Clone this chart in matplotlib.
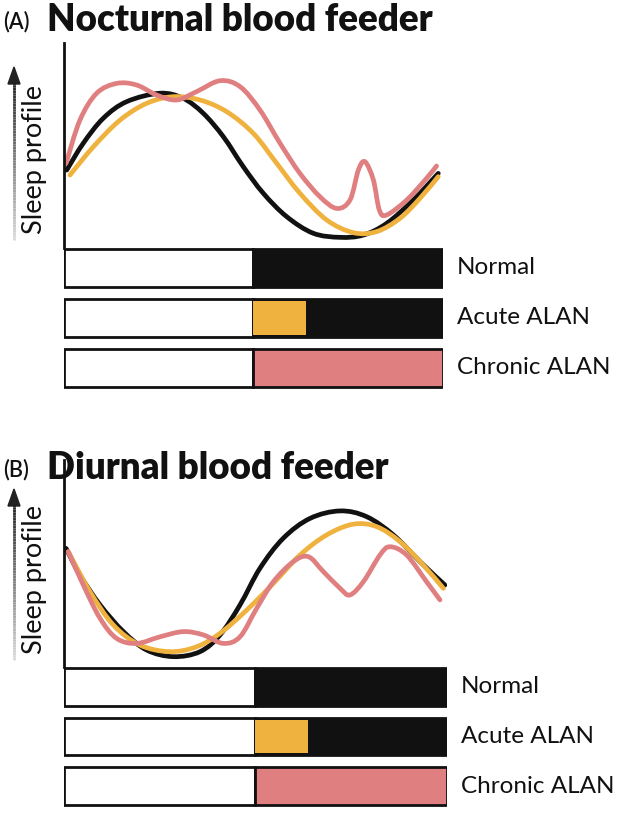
import numpy as np
import matplotlib
matplotlib.use("Agg")
import matplotlib.pyplot as plt
from matplotlib.path import Path
from matplotlib.patches import PathPatch, Polygon
from matplotlib.collections import LineCollection

plt.rcParams['font.family'] = ['Lato', 'DejaVu Sans']

# ---- data (hours 0-24, relative sleep 0-100) ----
conditions = ["Normal", "Acute ALAN", "Chronic ALAN"]
dark_start = 12.0
acute_end = 15.3

noct_hours_black = [0.17, 1.22, 2.49, 3.97, 6.08, 7.55, 8.82, 10.09, 11.35, 12.62, 14.10, 15.78,
                    17.48, 18.95, 20.43, 22.12, 23.70]
noct_black = [38.0, 51.1, 63.3, 71.4, 75.5, 73.0, 65.7, 54.3, 39.7, 26.7, 15.3, 7.2,
              5.2, 6.3, 12.0, 23.4, 36.4]
noct_hours_acute = [0.38, 1.86, 3.55, 5.24, 6.92, 8.61, 10.30, 11.99, 13.47, 14.94, 16.63, 18.32,
                    19.80, 21.28, 22.54, 23.70]
noct_acute = [35.6, 49.4, 62.4, 70.6, 73.8, 72.2, 66.5, 55.9, 41.3, 26.7, 13.7, 7.5,
              8.0, 14.5, 24.2, 34.8]
noct_hours_chronic = [0.13, 1.01, 2.07, 3.34, 4.60, 5.87, 7.14, 8.40, 9.88, 11.15, 12.41, 13.68,
                      14.94, 16.21, 17.27, 18.11, 18.64, 19.06, 19.59, 19.97, 20.43, 21.70,
                      22.96, 23.59]
noct_chronic = [41.3, 62.4, 75.5, 80.3, 79.5, 74.6, 72.2, 76.3, 81.6, 78.7, 67.3, 51.1,
                36.4, 25.0, 19.3, 23.4, 38.0, 42.1, 33.2, 18.5, 16.1, 23.4,
                34.0, 40.0]

diur_hours_black = [0.13, 1.00, 2.26, 3.72, 5.18, 6.85, 8.52, 9.78, 11.03, 12.28, 13.74, 15.42,
                    17.30, 18.97, 20.64, 22.31, 23.87]
diur_black = [57.3, 44.4, 30.0, 17.1, 8.2, 5.0, 7.4, 15.5, 30.0, 47.7, 62.2, 71.8,
              75.4, 72.6, 63.8, 50.9, 39.6]
diur_hours_acute = [0.27, 1.63, 3.09, 4.76, 6.64, 8.32, 9.78, 11.45, 13.12, 14.79, 16.46, 18.13,
                    19.59, 21.05, 22.51, 23.77]
diur_acute = [55.7, 36.4, 20.3, 10.6, 7.4, 9.8, 16.3, 27.5, 40.4, 54.1, 63.8, 69.0,
              67.8, 60.6, 49.3, 38.0]
diur_hours_chronic = [0.27, 1.21, 2.26, 3.30, 4.56, 6.02, 7.48, 8.73, 9.98, 11.03, 12.07, 13.12,
                      14.37, 15.31, 16.25, 17.30, 17.92, 18.76, 19.80, 20.43, 21.47, 22.72, 23.56]
diur_chronic = [55.7, 39.6, 23.5, 13.8, 11.4, 14.6, 17.1, 15.5, 11.4, 14.6, 28.3, 41.2,
                50.9, 53.3, 46.1, 38.0, 34.8, 41.2, 54.1, 58.1, 54.1, 41.2, 32.4]

BLACK = "#111111"
YELLOW = "#f0b23e"
PINK = "#e07f80"

W, H = 630, 819
fig = plt.figure(figsize=(W / 100, H / 100), dpi=100)


def px_axes(x0, y0, x1, y1):
    # pixel box (top-left origin) -> figure axes
    return fig.add_axes([x0 / W, 1 - y1 / H, (x1 - x0) / W, (y1 - y0) / H])


def smooth_path(xs, ys):
    # Catmull-Rom through the points, drawn as cubic Bezier segments
    p = np.column_stack([xs, ys])
    pts = np.vstack([p[0], p, p[-1]])
    verts = [tuple(p[0])]
    codes = [Path.MOVETO]
    for i in range(1, len(pts) - 2):
        p0, p1, p2, p3 = pts[i - 1], pts[i], pts[i + 1], pts[i + 2]
        c1 = p1 + (p2 - p0) / 6
        c2 = p2 - (p3 - p1) / 6
        verts += [tuple(c1), tuple(c2), tuple(p2)]
        codes += [Path.CURVE4] * 3
    return Path(verts, codes)


def panel(box_curve, box_bars, series):
    ax = px_axes(*box_curve)
    ax.set_xlim(0, 24)
    ax.set_ylim(0, 100)
    for s in ["top", "right", "bottom"]:
        ax.spines[s].set_visible(False)
    ax.spines["left"].set_linewidth(2)
    ax.spines["left"].set_color(BLACK)
    ax.set_xticks([])
    ax.set_yticks([])
    ax.patch.set_alpha(0)
    for xs, ys, c in series:
        ax.add_patch(PathPatch(smooth_path(xs, ys), fill=False, edgecolor=c,
                               lw=3.4, capstyle="round", joinstyle="round"))

    bx = px_axes(*box_bars)
    bx.set_xlim(0, 24)
    bx.set_ylim(2.5, -0.5)
    bx.axis("off")
    ypos = np.arange(len(conditions))
    kw = dict(height=0.76, edgecolor=BLACK, linewidth=2)
    bx.barh(ypos, dark_start, left=0, color="white", **kw)
    bx.barh(0, 24 - dark_start, left=dark_start, color=BLACK, **kw)
    bx.barh(1, 24 - dark_start, left=dark_start, color=BLACK, **kw)
    bx.barh(1, acute_end - dark_start, left=dark_start, color=YELLOW,
            height=0.68, linewidth=0)
    bx.barh(2, 24 - dark_start, left=dark_start, color=PINK, **kw)
    for y, name in zip(ypos, conditions):
        bx.annotate(name, (24, y), xytext=(10, 0), textcoords="offset points",
                    ha="left", va="center", fontsize=17.5, color=BLACK)


panel((64, 43, 443, 248), (64, 243, 443, 392.5),
      [(noct_hours_black, noct_black, BLACK),
       (noct_hours_acute, noct_acute, YELLOW),
       (noct_hours_chronic, noct_chronic, PINK)])
panel((64, 460, 447, 667), (64, 662, 447, 811),
      [(diur_hours_black, diur_black, BLACK),
       (diur_hours_acute, diur_acute, YELLOW),
       (diur_hours_chronic, diur_chronic, PINK)])

# overlay for titles and y arrows
ov = fig.add_axes([0, 0, 1, 1])
ov.set_xlim(0, W)
ov.set_ylim(H, 0)
ov.axis("off")
ov.patch.set_alpha(0)

for ybase, letter, title in [(31, "(A)", "Nocturnal blood feeder"),
                             (479, "(B)", "Diurnal blood feeder")]:
    ov.text(3, ybase - 3, letter, fontsize=15.5, fontweight="semibold", ha="left",
            va="baseline", color=BLACK)
    ov.text(47, ybase, title, fontsize=26.5, fontweight="heavy", ha="left",
            va="baseline", color=BLACK)

for head_top, shaft_bot, text_mid in [(67, 240, 159), (489, 660, 579)]:
    ys = np.linspace(head_top + 15, shaft_bot, 60)
    segs = [[(14, a), (14, b)] for a, b in zip(ys[:-1], ys[1:])]
    shades = np.linspace(0.13, 0.85, len(segs))
    ov.add_collection(LineCollection(segs, colors=[(s, s, s) for s in shades], linewidths=2))
    ov.add_patch(Polygon([(8, head_top + 17), (20, head_top + 17), (14, head_top)],
                         closed=True, color="#222222"))
    ov.text(35, text_mid, "Sleep profile", rotation=90, fontsize=19.5,
            ha="center", va="center", color=BLACK)

fig.savefig("out.png", dpi=100)
